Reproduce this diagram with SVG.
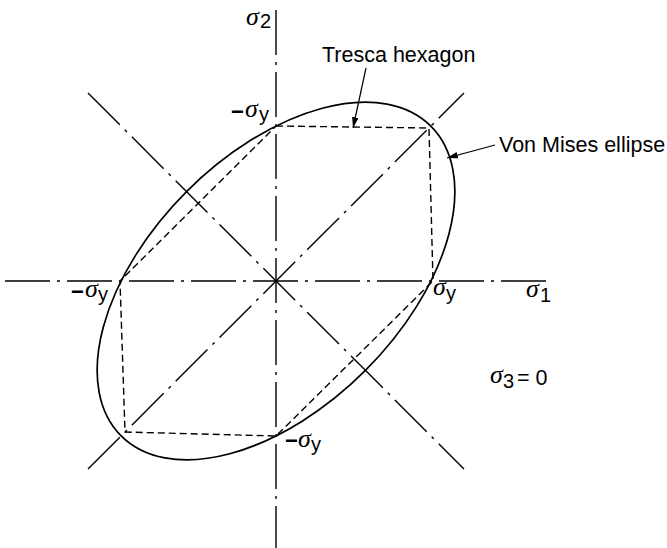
<svg xmlns="http://www.w3.org/2000/svg" width="667" height="548" viewBox="0 0 667 548">
<style>
.axis{stroke:#000;stroke-width:1.4;fill:none;stroke-dasharray:45 7 3 7}
.hex{stroke:#000;stroke-width:1.4;fill:none;stroke-dasharray:7 4}
.ell{stroke:#000;stroke-width:1.7;fill:none}
.lead{stroke:#000;stroke-width:1.2;fill:none}
.lbl{font-family:"Liberation Sans",Arial,sans-serif;font-size:21.5px;fill:#000}
.neg{font-family:"Liberation Sans",Arial,sans-serif;font-size:22px;font-weight:bold;fill:#000}
.sig{font-family:"Liberation Serif","Times New Roman",serif;font-style:italic;font-size:26px;fill:#000}
.sub{font-family:"Liberation Sans",Arial,sans-serif;font-size:20px;fill:#000}
</style>
<defs>
<marker id="ah" viewBox="0 0 10 6" refX="10" refY="3" markerWidth="11" markerHeight="6.5" markerUnits="userSpaceOnUse" orient="auto">
<path d="M0,0 L10,3 L0,6 Z" fill="#000"/>
</marker>
</defs>
<rect width="667" height="548" fill="#fff"/>
<g id="connectors">
<line class="axis" x1="5" y1="281" x2="547" y2="281"/>
<line class="axis" x1="276" y1="10" x2="276" y2="548"/>
<line class="axis" x1="88" y1="93" x2="464" y2="469"/>
<line class="axis" x1="88" y1="469" x2="464" y2="93"/>
<line class="lead" x1="366" y1="68" x2="353" y2="128" marker-end="url(#ah)"/>
<line class="lead" x1="495" y1="145" x2="447" y2="158" marker-end="url(#ah)"/>
</g>
<g id="ellipse">
<ellipse class="ell" cx="0" cy="0" rx="219" ry="126.5" transform="translate(276,281) rotate(-45)"/>
</g>
<g id="hexagon">
<polygon class="hex" points="276,126 429,128 433,281 276,436 125,432 120,281"/>
</g>
<g id="label-sigma2">
<text class="sig" x="246" y="25">σ</text><text class="sub" x="260" y="28">2</text>
</g>
<g id="label-tresca">
<text class="lbl" x="322" y="62">Tresca hexagon</text>
</g>
<g id="label-vonmises">
<text class="lbl" x="499" y="152">Von Mises ellipse</text>
</g>
<g id="label-top">
<text class="neg" x="231" y="119">−</text><text class="sig" x="245" y="117">σ</text><text class="sub" x="259" y="121">y</text>
</g>
<g id="label-left">
<text class="neg" x="71" y="299">−</text><text class="sig" x="85" y="297">σ</text><text class="sub" x="98" y="301">y</text>
</g>
<g id="label-right">
<text class="sig" x="433" y="295">σ</text><text class="sub" x="446" y="300">y</text>
</g>
<g id="label-sigma1">
<text class="sig" x="526" y="297">σ</text><text class="sub" x="540" y="302">1</text>
</g>
<g id="label-sigma3">
<text class="sig" x="490" y="383">σ</text><text class="sub" x="503" y="388">3</text><text class="lbl" x="517" y="385">= 0</text>
</g>
<g id="label-bottom">
<text class="neg" x="285" y="448">−</text><text class="sig" x="298" y="447">σ</text><text class="sub" x="311" y="451">y</text>
</g>
</svg>
